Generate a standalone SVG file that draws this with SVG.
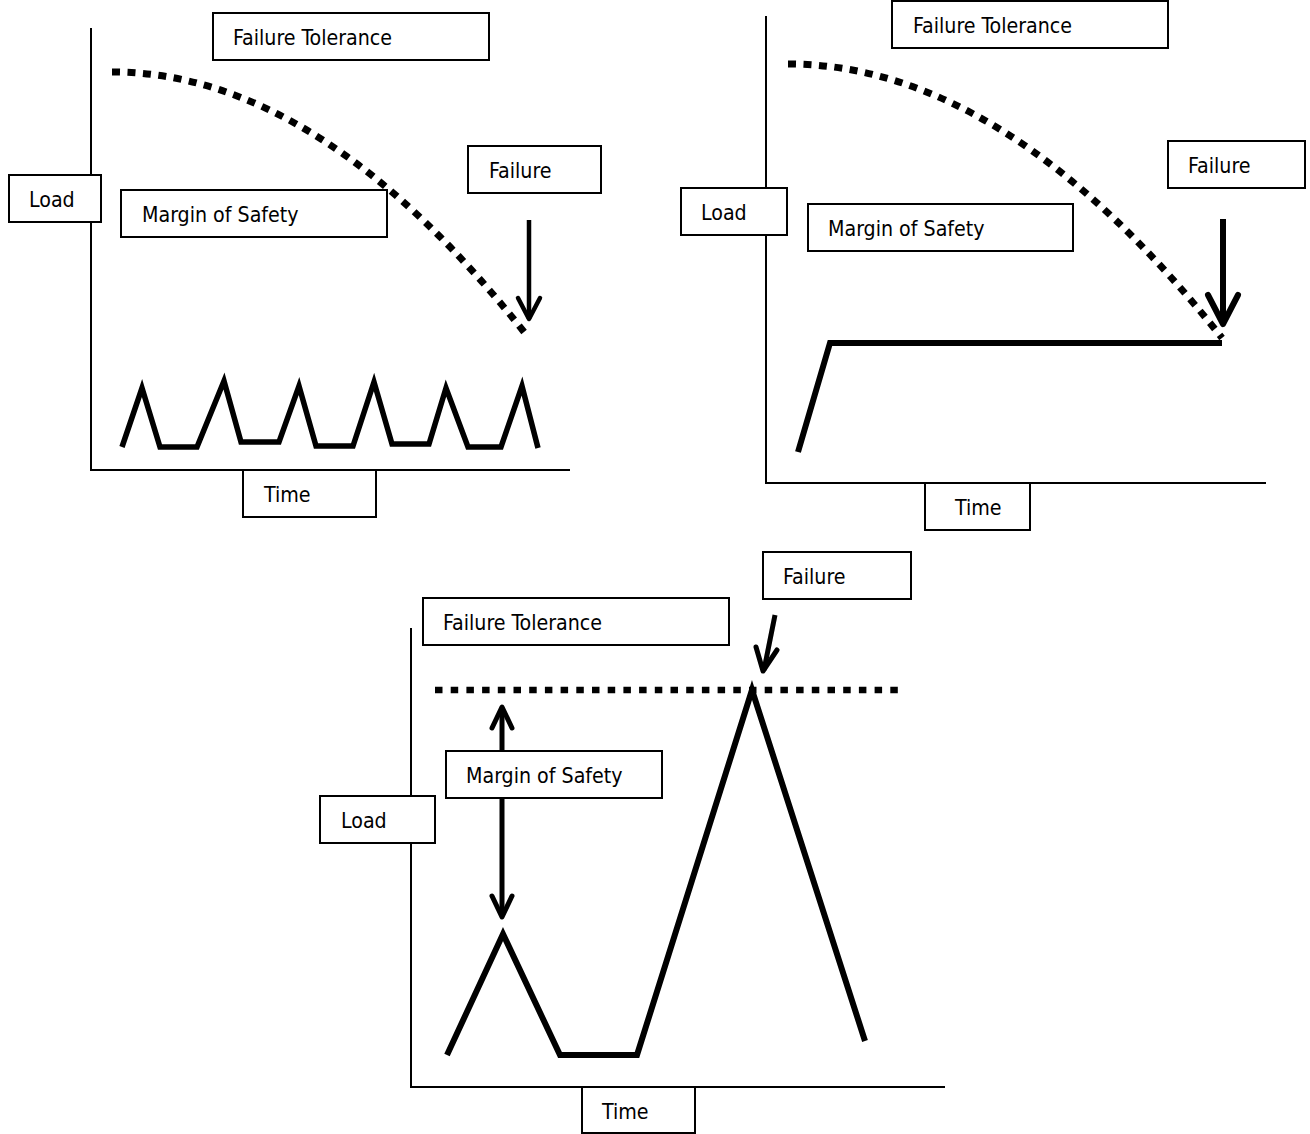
<svg xmlns="http://www.w3.org/2000/svg" width="1310" height="1134" viewBox="0 0 1310 1134">
  <style>
    .box { fill: #ffffff; stroke: #000000; stroke-width: 2; }
    .lbl { font-family: "DejaVu Sans Condensed", "DejaVu Sans", sans-serif; font-stretch: condensed; font-size: 21.2px; fill: #000000; }
    .axis { fill: none; stroke: #000000; stroke-width: 2; }
    .load { fill: none; stroke: #000000; stroke-width: 5.5; stroke-linejoin: miter; }
    .tol { fill: none; stroke: #000000; stroke-width: 7; stroke-dasharray: 8 7.5; }
    .arr { fill: none; stroke: #000000; stroke-width: 5; stroke-linecap: round; stroke-linejoin: round; }
  </style>
  <rect width="1310" height="1134" fill="#ffffff"/>

  <g id="connectors">
    <!-- Chart 1 (top left) -->
    <polyline class="axis" points="91,28 91,470 570,470"/>
    <path class="tol" d="M112,72 Q320,72 528,337"/>
    <polyline class="load" points="122,447 142,388 160,447 197,447 224,381 241,442 279,442 299,386 316,446 353,446 374,382 392,444 429,444 446,388 468,447 501,447 522,386 538,448"/>
    <polyline class="arr" style="stroke-width:4.5;stroke-linecap:butt" points="529,220 529,319"/>
    <polyline class="arr" style="stroke-width:4.5" points="518,298 529,319 540,298"/>

    <!-- Chart 2 (top right) -->
    <polyline class="axis" points="766,16 766,483 1266,483"/>
    <path class="tol" d="M788,64 Q1005,64 1222,338"/>
    <polyline class="load" style="stroke-width:6" points="798,452 830,343 1222,343"/>
    <polyline class="arr" style="stroke-width:6;stroke-linecap:butt" points="1223,219 1223,324"/>
    <polyline class="arr" style="stroke-width:6" points="1208,295 1223,324 1238,295"/>

    <!-- Chart 3 (bottom) -->
    <polyline class="axis" points="411,628 411,1087 945,1087"/>
    <line class="tol" style="stroke-width:6.5;stroke-dasharray:7.5 8.2" x1="435" y1="690" x2="899" y2="690"/>
    <polyline class="load" style="stroke-width:6" points="447,1055 503,934 560,1055 637,1055 752,690 865,1041"/>
    <line class="arr" style="stroke-linecap:butt" x1="775" y1="615" x2="764" y2="670"/>
    <polyline class="arr" points="756,647 763,671 777,650"/>
    <line class="arr" style="stroke-linecap:butt" x1="502" y1="708" x2="502" y2="916"/>
    <polyline class="arr" points="492,728 502,707 512,728"/>
    <polyline class="arr" points="492,896 502,917 512,896"/>
  </g>

  <!-- Chart 1 nodes -->
  <g id="c1-failure-tolerance"><rect class="box" x="213" y="13" width="276" height="47"/><text class="lbl" x="233" y="45">Failure Tolerance</text></g>
  <g id="c1-failure"><rect class="box" x="468" y="146" width="133" height="47"/><text class="lbl" x="489" y="178">Failure</text></g>
  <g id="c1-load"><rect class="box" x="9" y="175" width="92" height="47"/><text class="lbl" x="29" y="207">Load</text></g>
  <g id="c1-margin"><rect class="box" x="121" y="190" width="266" height="47"/><text class="lbl" x="142" y="222">Margin of Safety</text></g>
  <g id="c1-time"><rect class="box" x="243" y="470" width="133" height="47"/><text class="lbl" x="264" y="502">Time</text></g>

  <!-- Chart 2 nodes -->
  <g id="c2-failure-tolerance"><rect class="box" x="892" y="1" width="276" height="47"/><text class="lbl" x="913" y="33">Failure Tolerance</text></g>
  <g id="c2-failure"><rect class="box" x="1168" y="141" width="137" height="47"/><text class="lbl" x="1188" y="173">Failure</text></g>
  <g id="c2-load"><rect class="box" x="681" y="188" width="106" height="47"/><text class="lbl" x="701" y="220">Load</text></g>
  <g id="c2-margin"><rect class="box" x="808" y="204" width="265" height="47"/><text class="lbl" x="828" y="236">Margin of Safety</text></g>
  <g id="c2-time"><rect class="box" x="925" y="483" width="105" height="47"/><text class="lbl" x="955" y="515">Time</text></g>

  <!-- Chart 3 nodes -->
  <g id="c3-failure-tolerance"><rect class="box" x="423" y="598" width="306" height="47"/><text class="lbl" x="443" y="630">Failure Tolerance</text></g>
  <g id="c3-failure"><rect class="box" x="763" y="552" width="148" height="47"/><text class="lbl" x="783" y="584">Failure</text></g>
  <g id="c3-load"><rect class="box" x="320" y="796" width="115" height="47"/><text class="lbl" x="341" y="828">Load</text></g>
  <g id="c3-margin"><rect class="box" x="446" y="751" width="216" height="47"/><text class="lbl" x="466" y="783">Margin of Safety</text></g>
  <g id="c3-time"><rect class="box" x="582" y="1087" width="113" height="46"/><text class="lbl" x="602" y="1119">Time</text></g>
</svg>
